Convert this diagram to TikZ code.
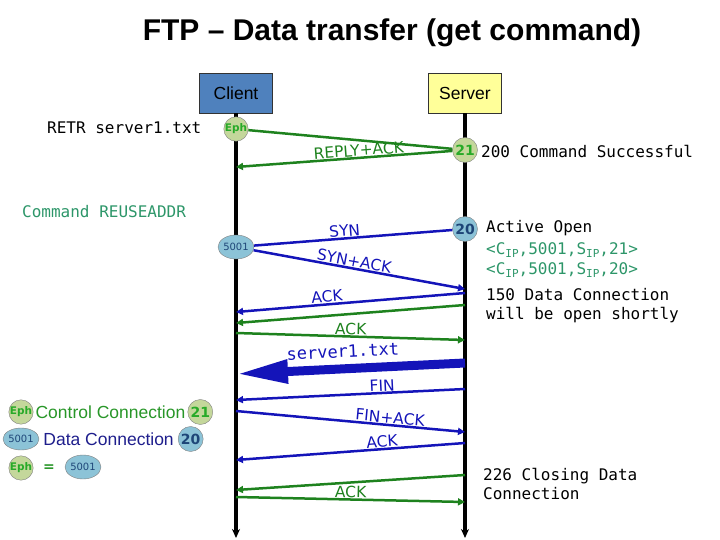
\documentclass[tikz,border=0pt]{standalone}
\usepackage{fontspec}
\setmainfont{Liberation Sans}
\setsansfont{DejaVu Sans}
\setmonofont{DejaVu Sans Mono}
\usetikzlibrary{arrows.meta,positioning,shapes.geometric,calc}
\usepackage{xcolor}
\definecolor{ctrlgreen}{RGB}{30,130,30}
\definecolor{datablue}{RGB}{20,20,185}
\definecolor{termgreen}{RGB}{45,150,105}
\definecolor{ephfill}{RGB}{196,215,155}
\definecolor{portfill}{RGB}{140,195,215}
\definecolor{clientfill}{RGB}{79,129,189}
\definecolor{serverfill}{RGB}{255,255,153}
\definecolor{navytext}{RGB}{30,30,140}
\definecolor{porttext}{RGB}{30,70,120}
\definecolor{ephtext}{RGB}{40,170,40}
\definecolor{legendgreen}{RGB}{40,150,40}
\tikzset{
  titletext/.style={font=\fontsize{30}{34}\selectfont\bfseries},
  host/.style={rectangle,draw=black!80,fill=#1,minimum width=73pt,minimum height=40pt,
    font=\fontsize{17.5}{20}\selectfont},
  lifeline/.style={line width=4pt,-{Stealth[length=9pt,width=8pt]}},
  ephport/.style={circle,draw=black!50,fill=ephfill,inner sep=0pt,minimum size=24pt,
    font=\fontsize{10.5}{11}\sffamily\bfseries,text=ephtext},
  cmdport/.style={circle,draw=black!50,fill=ephfill,inner sep=0pt,minimum size=25pt,
    font=\fontsize{14}{16}\sffamily\bfseries,text=ephtext},
  ephdata/.style={ellipse,draw=black!50,fill=portfill,inner sep=0pt,minimum width=34pt,
    minimum height=24pt,font=\fontsize{10}{11}\sffamily,text=porttext},
  dataport/.style={circle,draw=black!50,fill=portfill,inner sep=0pt,minimum size=25pt,
    font=\fontsize{14}{16}\sffamily\bfseries,text=porttext},
  ctrlline/.style={draw=ctrlgreen,line width=2.5pt},
  ctrlmsg/.style={ctrlline,-{Triangle[length=7pt,width=7pt]}},
  dataline/.style={draw=datablue,line width=2.5pt},
  datamsg/.style={dataline,-{Triangle[length=7pt,width=7pt]}},
  bulk/.style={draw=datablue,line width=9pt,-{Triangle[length=52pt,width=22pt]}},
  msglabel/.style={font=\fontsize{15.5}{18}\sffamily,sloped,above,inner sep=0.5pt},
  mono/.style={font=\fontsize{16}{19}\ttfamily,anchor=west,align=left,inner sep=0pt},
  legendtext/.style={font=\fontsize{17.5}{20}\selectfont,inner sep=1pt}
}
\newcommand{\ipsub}{\raisebox{-3pt}{\fontsize{11}{11}\selectfont IP}}

\begin{document}
\begin{tikzpicture}[x=1pt,y=-1pt]
  \useasboundingbox (0,0) rectangle (720,540);
  \node[titletext] (title) at (392,33) {FTP – Data transfer (get command)};
  \node[host=clientfill] (client) at (236,93) {Client};
  \node[host=serverfill] (server) at (465,93) {Server};

  % lifelines
  \coordinate (cbot) at (236,538);
  \coordinate (sbot) at (465,538);
  \draw[lifeline] (client.south) -- (cbot);
  \draw[lifeline] (server.south) -- (sbot);

  % ports
  \node[ephport] (eph)   at (236,129) {Eph};
  \node[cmdport] (p21)   at (465,150) {21};
  \node[ephdata] (p5001) at (236,247) {5001};
  \node[dataport] (p20)  at (465,229) {20};

  % points on the lifelines
  \coordinate (c1) at (236,167);
  \coordinate (s1) at (465,289);
  \coordinate (s2) at (465,293);  \coordinate (c2) at (236,312);
  \coordinate (s3) at (465,305);  \coordinate (c3) at (236,323);
  \coordinate (c4) at (236,333);  \coordinate (s4) at (465,340);
  \coordinate (s5) at (465,363);  \coordinate (c5) at (236,374);
  \coordinate (s6) at (465,389);  \coordinate (c6) at (236,400);
  \coordinate (c7) at (236,411);  \coordinate (s7) at (465,432);
  \coordinate (s8) at (465,443);  \coordinate (c8) at (236,460);
  \coordinate (s9) at (465,475);  \coordinate (c9) at (236,490);
  \coordinate (c10) at (236,497); \coordinate (s10) at (465,502);

  % control connection
  \draw[ctrlline] (eph) -- (p21);
  \draw[ctrlmsg]  (p21) -- (c1) node[msglabel,text=ctrlgreen,pos=0.43] {REPLY+ACK};

  % data connection setup
  \draw[dataline] (p5001) -- (p20) node[msglabel,text=datablue,pos=0.46] {SYN};
  \draw[datamsg]  (p5001) -- (s1)  node[msglabel,text=datablue,pos=0.47] {SYN+ACK};
  \draw[datamsg]  (s2) -- (c2) node[msglabel,text=datablue,pos=0.6] {ACK};
  \draw[ctrlmsg]  (s3) -- (c3);
  \draw[ctrlmsg]  (c4) -- (s4) node[msglabel,text=ctrlgreen,pos=0.5] {ACK};

  % transfer
  \draw[bulk] (s5) -- (c5) node[msglabel,text=datablue,pos=0.53,above=6pt,
    font=\fontsize{17}{20}\ttfamily] {server1.txt};

  % teardown
  \draw[datamsg] (s6) -- (c6) node[msglabel,text=datablue,pos=0.36] {FIN};
  \draw[datamsg] (c7) -- (s7) node[msglabel,text=datablue,pos=0.67] {FIN+ACK};
  \draw[datamsg] (s8) -- (c8) node[msglabel,text=datablue,pos=0.36] {ACK};
  \draw[ctrlmsg] (s9) -- (c9);
  \draw[ctrlmsg] (c10) -- (s10) node[msglabel,text=ctrlgreen,pos=0.5] {ACK};

  % notes
  \node[mono] (retr)   at (47,128)  {RETR server1.txt};
  \node[mono,text=termgreen] (reuse) at (22,212) {Command REUSEADDR};
  \node[mono] (ok200)  at (481,151) {200 Command Successful};
  \node[mono] (active) at (486,228) {Active Open};
  \node[mono,text=termgreen] (sock21) at (486,250) {<C\ipsub,5001,S\ipsub,21>};
  \node[mono,text=termgreen] (sock20) at (486,270) {<C\ipsub,5001,S\ipsub,20>};
  \node[mono] (ok150)  at (486,306) {150 Data Connection\\will be open shortly};
  \node[mono] (ok226)  at (483,484) {226 Closing Data\\Connection};

  % legend
  \node[ephport] (legeph) at (21,412) {Eph};
  \node[legendtext,text=legendgreen,right=1pt of legeph] (legctrl) {Control Connection};
  \node[cmdport,right=1pt of legctrl] (leg21) {21};
  \node[ephdata,minimum width=31pt,minimum height=22pt] (legdata5001) at (21,439) {5001};
  \node[legendtext,text=navytext,right=3pt of legdata5001] (legdata) {Data Connection};
  \node[dataport,right=3pt of legdata] (leg20) {20};
  \node[ephport] (legeph2) at (21,468) {Eph};
  \node[text=legendgreen,font=\fontsize{14}{16}\sffamily\bfseries] (legeq) at (49,468) {=};
  \node[ephdata] (leg5001) at (83,467) {5001};
\end{tikzpicture}
\end{document}
